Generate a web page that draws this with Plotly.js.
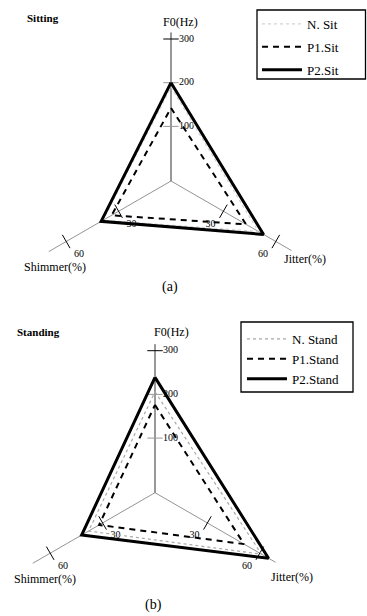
<!DOCTYPE html>
<html><head><meta charset="utf-8">
<script src="https://cdn.plot.ly/plotly-3.0.1.min.js"></script>
<style>
html,body{margin:0;padding:0;background:#fff;width:367px;height:616px;overflow:hidden}
#wrap{width:367px;height:616px;overflow:hidden;position:relative}
#chart{width:367px;height:660px}
</style>
</head><body><div id="wrap"><div id="chart"></div></div>
<script>
// ---------------- data ----------------
const axes = ['F0(Hz)', 'Jitter(%)', 'Shimmer(%)'];
const sitNames = ['N. Sit', 'P1.Sit', 'P2.Sit'];
const sitN  = [190, 50, 39];
const sitP1 = [142, 43, 34];
const sitP2 = [200, 53, 40];
const standNames = ['N. Stand', 'P1.Stand', 'P2.Stand'];
const standN  = [206, 61, 38];
const standP1 = [176, 51, 32];
const standP2 = [239, 65, 42];
const f0Ticks  = [100, 200, 300];
const pctTicks = [30, 60];
const axisEnds = [315, 69, 70];

// ---------------- per-axis radar scales ----------------
const axisMin = [-25, 0, 0];
const axisRef = [300, 60, 60];
const refPx   = [142, 121, 121];
function rad(v, i) { return (v - axisMin[i]) * refPx[i] / (axisRef[i] - axisMin[i]); }

const W = 367, H = 660;   // plot is drawn taller; the visible window is 616 px
const FONT = 'Liberation Serif, Times New Roman, serif';
const R = 150;

const panels = [
  {polar: 'polar',  legend: 'legend',  cx: 171, cy: 181,
   series: [sitN, sitP1, sitP2], names: sitNames, nColor: '#d4d4d4'},
  {polar: 'polar2', legend: 'legend2', cx: 155, cy: 492.7,
   series: [standN, standP1, standP2], names: standNames, nColor: '#a8a8a8'}
];

const traces = [];
panels.forEach(p => {
  // axis lines
  axes.forEach((a, i) => {
    traces.push({type: 'scatterpolar', subplot: p.polar, mode: 'lines', showlegend: false,
      hoverinfo: 'skip', cliponaxis: false,
      r: [0, rad(axisEnds[i], i)], theta: [a, a],
      line: {color: i === 0 ? '#333' : '#666', width: i === 0 ? 1 : 0.7}});
  });
  // ticks + tick labels
  const tickSets = [
    {i: 0, vals: f0Ticks, pos: 'middle right', ang: 0},
    {i: 1, vals: pctTicks, pos: 'bottom left', ang: -60},
    {i: 2, vals: pctTicks, pos: 'bottom right', ang: 60}
  ];
  tickSets.forEach(ts => {
    traces.push({type: 'scatterpolar', subplot: p.polar, mode: 'markers+text', showlegend: false,
      hoverinfo: 'skip', cliponaxis: false,
      r: ts.vals.map(v => rad(v, ts.i)), theta: ts.vals.map(() => axes[ts.i]),
      text: ts.vals.map(String), textposition: ts.pos,
      textfont: {family: FONT, size: 10, color: '#000'},
      marker: {symbol: 'line-ew', size: 11, angle: ts.ang,
               color: '#000',
               line: {color: ts.vals.map(v => (ts.i === 0 && v < 300) ? '#999' : '#000'), width: 1}}});
  });
  // data series
  const styles = [
    {color: p.nColor, width: 1.2, dash: 'dot'},
    {color: '#000', width: 2, dash: '6px,5px'},
    {color: '#000', width: 3, dash: 'solid'}
  ];
  p.series.forEach((s, k) => {
    traces.push({type: 'scatterpolar', subplot: p.polar, mode: 'lines', cliponaxis: false,
      name: p.names[k], legend: p.legend, legendgroup: p.legend + k,
      r: s.map((v, i) => rad(v, i)).concat([rad(s[0], 0)]),
      theta: axes.concat([axes[0]]),
      line: Object.assign({}, styles[k], {shape: 'linear'})});
  });
});

function polarLayout(p) {
  return {
    domain: {x: [(p.cx - R) / W, (p.cx + R) / W],
             y: [1 - (p.cy + R) / H, 1 - (p.cy - R) / H]},
    bgcolor: 'rgba(0,0,0,0)',
    radialaxis: {visible: false, range: [0, R]},
    angularaxis: {visible: false, type: 'category', categoryarray: axes,
                  rotation: 90, direction: 'clockwise'}
  };
}

function ann(text, x, y, size, bold) {
  return {text: bold ? '<b>' + text + '</b>' : text, x: x / W, y: 1 - y / H,
          xref: 'paper', yref: 'paper', showarrow: false, xanchor: 'center', yanchor: 'middle',
          font: {family: FONT, size: size, color: '#000'}};
}

function box(x0, y0, x1, y1) {
  return {type: 'rect', xref: 'paper', yref: 'paper',
          x0: x0 / W, x1: x1 / W, y0: 1 - y1 / H, y1: 1 - y0 / H,
          line: {color: '#000', width: 1.3}};
}

const layout = {
  width: W, height: H,
  margin: {l: 0, r: 0, t: 0, b: 0},
  paper_bgcolor: '#fff', plot_bgcolor: '#fff',
  polar: polarLayout(panels[0]),
  polar2: polarLayout(panels[1]),
  showlegend: true,
  legend: {x: 257 / W, y: 1 - 9 / H, xanchor: 'left', yanchor: 'top', itemwidth: 40,
           bgcolor: 'rgba(0,0,0,0)', borderwidth: 0, tracegroupgap: 3,
           font: {family: FONT, size: 13, color: '#000'}},
  legend2: {x: 242 / W, y: 1 - 324 / H, xanchor: 'left', yanchor: 'top', itemwidth: 40,
            bgcolor: 'rgba(0,0,0,0)', borderwidth: 0, tracegroupgap: 0,
            font: {family: FONT, size: 13, color: '#000'}},
  shapes: [box(257, 10, 365.5, 79), box(241, 322, 353, 392)],
  annotations: [
    ann('Sitting', 43, 18, 11, true),
    ann('F0(Hz)', 180, 22, 12),
    ann('Jitter(%)', 305, 259, 12),
    ann('Shimmer(%)', 55, 267, 12),
    ann('(a)', 170, 287, 14),
    ann('Standing', 38, 332, 11, true),
    ann('F0(Hz)', 171, 332, 12),
    ann('Jitter(%)', 292, 577, 12),
    ann('Shimmer(%)', 45, 579, 12),
    ann('(b)', 153, 605, 14)
  ]
};

Plotly.newPlot('chart', traces, layout, {displayModeBar: false, staticPlot: true});
</script>
</body></html>
